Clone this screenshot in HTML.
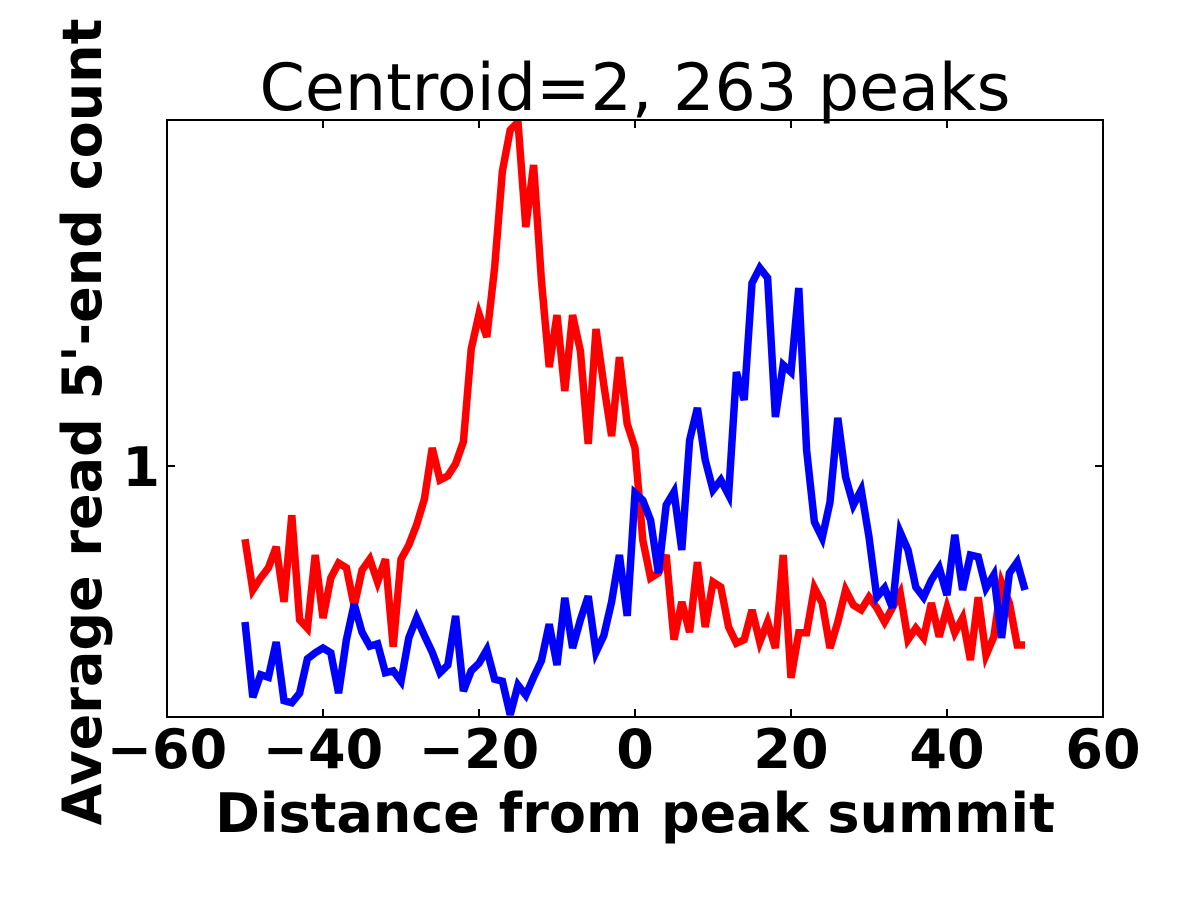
<!DOCTYPE html>
<html><head><meta charset="utf-8"><style>
html,body{margin:0;padding:0;background:#fff;}
svg{display:block;font-family:"DejaVu Sans","Liberation Sans",sans-serif;}
</style></head><body>
<svg id="chart" width="1200" height="900">
<rect width="1200" height="900" fill="#fff"/>
<text x="635" y="110" font-size="65" text-anchor="middle">Centroid=2, 263 peaks</text>
<g id="plot"></g>
<text x="635" y="832" font-size="54" font-weight="bold" text-anchor="middle">Distance from peak summit</text>
<text transform="translate(101,422) rotate(-90)" font-size="54" font-weight="bold" text-anchor="middle">Average read 5'-end count</text>
</svg>
<script>
const xs = [];
for (let i = -50; i <= 50; i++) xs.push(i);
const redValues = [0.817,0.710,0.734,0.755,0.800,0.687,0.873,0.654,0.639,0.782,0.657,0.734,0.765,0.755,0.679,0.750,0.773,0.726,0.773,0.607,0.773,0.804,0.850,0.913,1.051,0.962,0.973,1.006,1.069,1.381,1.521,1.428,1.728,2.258,2.529,2.585,1.935,2.296,1.671,1.314,1.517,1.230,1.517,1.374,1.063,1.460,1.251,1.086,1.351,1.123,1.051,0.815,0.734,0.744,0.782,0.619,0.687,0.632,0.767,0.641,0.726,0.716,0.641,0.613,0.619,0.672,0.615,0.650,0.605,0.782,0.557,0.631,0.631,0.714,0.685,0.605,0.650,0.710,0.681,0.672,0.696,0.676,0.650,0.676,0.704,0.619,0.639,0.622,0.685,0.624,0.676,0.631,0.657,0.585,0.696,0.593,0.624,0.724,0.685,0.610,0.610];
const blueValues = [0.650,0.528,0.562,0.558,0.615,0.523,0.520,0.534,0.587,0.597,0.605,0.597,0.534,0.619,0.683,0.632,0.608,0.612,0.565,0.568,0.552,0.622,0.657,0.626,0.598,0.565,0.577,0.661,0.537,0.568,0.580,0.602,0.555,0.552,0.503,0.546,0.531,0.558,0.584,0.646,0.577,0.695,0.605,0.654,0.698,0.598,0.626,0.687,0.782,0.661,0.928,0.910,0.861,0.744,0.898,0.931,0.793,1.074,1.174,1.017,0.936,0.962,0.923,1.296,1.200,1.657,1.728,1.681,1.145,1.322,1.296,1.635,1.045,0.857,0.820,0.905,1.142,0.970,0.898,0.936,0.822,0.696,0.714,0.676,0.833,0.793,0.716,0.696,0.730,0.755,0.700,0.827,0.710,0.782,0.778,0.714,0.740,0.622,0.744,0.767,0.710];
const xTicks = [-60,-40,-20,0,20,40,60];
const xTickLabels = ["\u221260","\u221240","\u221220","0","20","40","60"];
const yTicks = [1];
const yTickLabels = ["1"];
const L=167,R=1103,T=120,B=717;
const xMin=-60,xMax=60,yMin=0.5,yMax=2.6;
const sx=v=>L+(v-xMin)/(xMax-xMin)*(R-L);
const sy=v=>B-(Math.log10(v)-Math.log10(yMin))/(Math.log10(yMax)-Math.log10(yMin))*(B-T);
const NS="http://www.w3.org/2000/svg";
const g=document.getElementById('plot');
function mk(t,a){const e=document.createElementNS(NS,t);for(const k in a)e.setAttribute(k,a[k]);g.appendChild(e);return e;}
const clip=mk('clipPath',{id:'cp'});
const cr=document.createElementNS(NS,'rect');cr.setAttribute('x',L);cr.setAttribute('y',T);cr.setAttribute('width',R-L);cr.setAttribute('height',B-T);clip.appendChild(cr);
function line(vals,color,name){
  const d=vals.map((v,i)=>(i?'L':'M')+sx(xs[i]).toFixed(1)+','+sy(v).toFixed(1)).join('');
  const p=mk('path',{d:d,fill:'none',stroke:color,'stroke-width':7.5,'stroke-linejoin':'miter','clip-path':'url(#cp)'});
  
  
}
line(redValues,'#ff0000','red-series-line');
line(blueValues,'#0000ff','blue-series-line');
const frame=mk('rect',{x:L,y:T,width:R-L,height:B-T,fill:'none',stroke:'#000','stroke-width':2});


xTicks.forEach((t,i)=>{
  const x=sx(t);
  mk('line',{x1:x,y1:B,x2:x,y2:B-8,stroke:'#000','stroke-width':2});
  mk('line',{x1:x,y1:T,x2:x,y2:T+8,stroke:'#000','stroke-width':2});
  const tx=mk('text',{x:x,y:768,'font-size':54,'font-weight':'bold','text-anchor':'middle'});
  tx.textContent=xTickLabels[i];
  
  
});
yTicks.forEach((t,i)=>{
  const y=sy(t);
  mk('line',{x1:L,y1:y,x2:L+8,y2:y,stroke:'#000','stroke-width':2});
  mk('line',{x1:R,y1:y,x2:R-8,y2:y,stroke:'#000','stroke-width':2});
  const tx=mk('text',{x:160,y:y+20,'font-size':54,'font-weight':'bold','text-anchor':'end'});
  tx.textContent=yTickLabels[i];
  
  
});
</script>
</body></html>
